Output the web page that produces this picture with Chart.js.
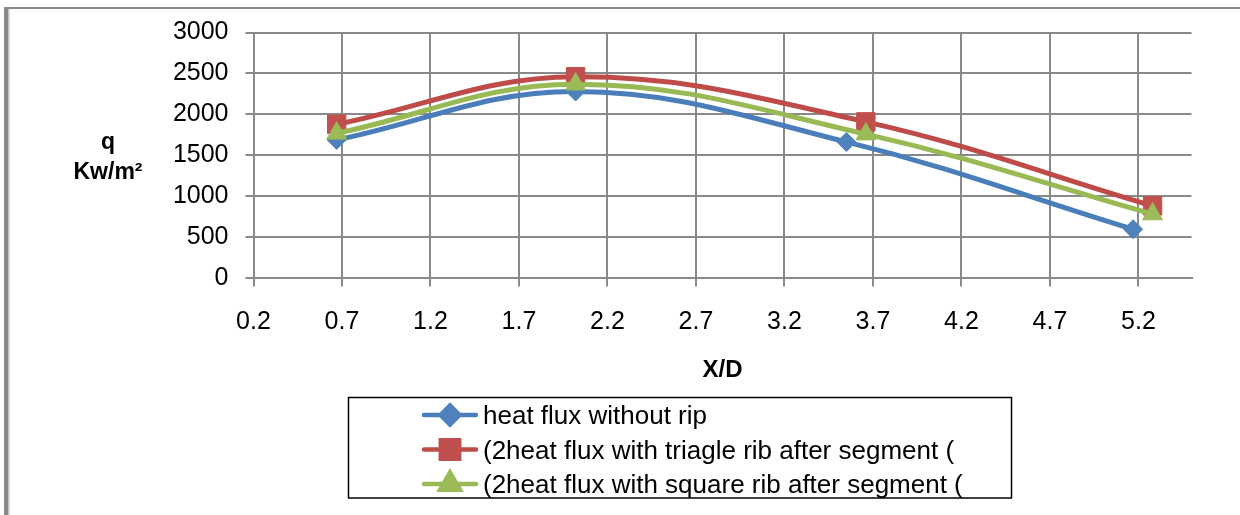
<!DOCTYPE html>
<html>
<head>
<meta charset="utf-8">
<script src="https://cdn.jsdelivr.net/npm/chart.js@4.4.0/dist/chart.umd.min.js"></script>
<style>
  html, body { margin: 0; padding: 0; background: #fff; }
  canvas { display: block; }
</style>
</head>
<body>
<canvas id="fluxChart" width="1240" height="515"></canvas>
<script>
// data
const seriesNames = [
    'heat flux without rip',
    '(2heat flux with triagle rib after segment (',
    '(2heat flux with square rib after segment ('
];
const xPlain = [0.67, 2.02, 3.55, 5.17];
const qPlain = [1690, 2280, 1665, 600];
const xTriangle = [0.67, 2.02, 3.66, 5.28];
const qTriangle = [1880, 2460, 1910, 885];
const xSquare = [0.67, 2.02, 3.66, 5.28];
const qSquare = [1770, 2370, 1760, 785];
const xTicks = [0.2, 0.7, 1.2, 1.7, 2.2, 2.7, 3.2, 3.7, 4.2, 4.7, 5.2];
const yTitle = ['q', 'Kw/m²'];
const xTitle = 'X/D';

const FONT = "'Liberation Sans', Arial, sans-serif";
const GRID = '#898989';

function toPoints(xs, ys) {
    return xs.map((x, i) => ({ x: x, y: ys[i] }));
}

// outer frame of the original figure (top and left edge only)
const framePlugin = {
    id: 'frame',
    beforeDraw(chart) {
        const ctx = chart.ctx;
        ctx.save();
        ctx.fillStyle = '#fff';
        ctx.fillRect(0, 0, chart.width, chart.height);
        ctx.fillStyle = '#8a8a8a';
        ctx.fillRect(4, 7, chart.width - 4, 2);
        ctx.fillRect(4, 7, 4, chart.height - 7);
        ctx.fillStyle = '#c4c4c4';
        ctx.fillRect(8, 9, 1.5, chart.height - 9);
        ctx.restore();
    }
};

// horizontal y-axis title, Excel style
const yTitlePlugin = {
    id: 'yTitle',
    afterDraw(chart) {
        const ctx = chart.ctx;
        const a = chart.chartArea;
        const cy = (a.top + a.bottom) / 2;
        ctx.save();
        ctx.fillStyle = '#000';
        ctx.font = 'bold 23px ' + FONT;
        ctx.textAlign = 'center';
        ctx.textBaseline = 'alphabetic';
        ctx.fillText(yTitle[0], 108, cy - 6);
        ctx.fillText(yTitle[1], 108, cy + 24);
        ctx.restore();
    }
};

// boxed legend with line + marker samples
const boxLegendPlugin = {
    id: 'boxLegend',
    afterDraw(chart) {
        const ctx = chart.ctx;
        const box = { left: 348.5, top: 397.5, right: 1011.5, bottom: 498 };
        const rowY = [415, 449.5, 484];
        ctx.save();
        ctx.strokeStyle = '#000';
        ctx.lineWidth = 1.5;
        ctx.strokeRect(box.left, box.top, box.right - box.left, box.bottom - box.top);
        chart.data.datasets.forEach((ds, i) => {
            const y = rowY[i];
            ctx.strokeStyle = ds.borderColor;
            ctx.lineWidth = 4.5;
            ctx.lineCap = 'round';
            ctx.beginPath();
            ctx.moveTo(424, y);
            ctx.lineTo(476, y);
            ctx.stroke();
            ctx.fillStyle = ds.pointBackgroundColor;
            ctx.strokeStyle = ds.pointBackgroundColor;
            Chart.helpers.drawPoint(ctx, {
                pointStyle: ds.pointStyle,
                radius: ds.pointRadius,
                rotation: 0,
                borderWidth: 1
            }, 450, y);
            ctx.fillStyle = '#000';
            ctx.font = '26px ' + FONT;
            ctx.textAlign = 'left';
            ctx.textBaseline = 'alphabetic';
            ctx.fillText(ds.label, 483, y + 9);
        });
        ctx.restore();
    }
};

const lineSet = (label, xs, ys, lineColor, markColor, style, radius, order) => ({
    label: label,
    data: toPoints(xs, ys),
    borderColor: lineColor,
    borderWidth: 5,
    pointStyle: style,
    pointRadius: radius,
    pointHoverRadius: radius,
    pointBackgroundColor: markColor,
    pointBorderColor: markColor,
    pointBorderWidth: 1,
    tension: 0.38,
    fill: false,
    order: order
});

const ctx = document.getElementById('fluxChart').getContext('2d');
new Chart(ctx, {
    type: 'line',
    data: {
        datasets: [
            lineSet(seriesNames[0], xPlain, qPlain, '#4A7EBB', '#4F81BD', 'rectRot', 9.5, 2),
            lineSet(seriesNames[1], xTriangle, qTriangle, '#BE4B48', '#C0504D', 'rect', 13, 1),
            lineSet(seriesNames[2], xSquare, qSquare, '#98B954', '#9BBB59', 'triangle', 11.5, 0)
        ]
    },
    options: {
        responsive: false,
        animation: false,
        layout: { padding: { left: 0, top: 32.5, right: 48.5, bottom: 126.6 } },
        plugins: {
            legend: { display: false },
            tooltip: { enabled: false }
        },
        scales: {
            x: {
                type: 'linear',
                min: 0.2,
                max: 5.5,
                afterBuildTicks: (scale) => { scale.ticks = xTicks.map(v => ({ value: v })); },
                afterFit: (scale) => { scale.height = 110; },
                ticks: {
                    autoSkip: false,
                    maxRotation: 0,
                    padding: 21,
                    color: '#000',
                    font: { family: FONT, size: 25 },
                    callback: (v) => Number(v).toFixed(1)
                },
                grid: { color: GRID, lineWidth: 2, tickLength: 8, drawTicks: true },
                border: { color: GRID, width: 2 },
                title: {
                    display: true,
                    text: xTitle,
                    color: '#000',
                    font: { family: FONT, size: 24, weight: 'bold' },
                    padding: { top: 0, bottom: 4 }
                }
            },
            y: {
                min: 0,
                max: 3000,
                afterFit: (scale) => { scale.width = 253.5; },
                ticks: {
                    stepSize: 500,
                    padding: 17,
                    color: '#000',
                    font: { family: FONT, size: 25 },
                    callback: (v) => String(v)
                },
                grid: { color: GRID, lineWidth: 2, tickLength: 8, drawTicks: true },
                border: { color: GRID, width: 2 }
            }
        }
    },
    plugins: [framePlugin, yTitlePlugin, boxLegendPlugin]
});
</script>
</body>
</html>
